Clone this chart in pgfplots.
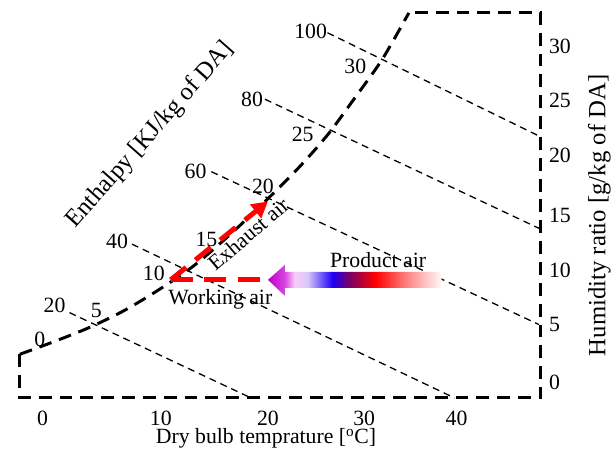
\documentclass[border=0pt]{standalone}
\usepackage{fontspec}
\setmainfont{Liberation Serif}
\usepackage{pgfplots}
\pgfplotsset{compat=1.18}
\usetikzlibrary{arrows.meta}
\definecolor{pmag}{RGB}{190,0,205}
\definecolor{pmagb}{RGB}{215,70,225}
\definecolor{ppink}{RGB}{250,205,250}
\definecolor{plav}{RGB}{215,200,250}
\definecolor{pblue}{RGB}{30,0,250}
\definecolor{ppurp}{RGB}{120,0,100}
\definecolor{pred}{RGB}{255,0,0}
\definecolor{ppinkred}{RGB}{255,130,130}
\definecolor{pwhite}{RGB}{255,250,250}
\pgfdeclarehorizontalshading{productair}{100bp}{color(0bp)=(pmag); color(25bp)=(pmag); color(29.9bp)=(pmagb); color(32.7bp)=(ppink); color(36.4bp)=(plav); color(43.6bp)=(pblue); color(48.4bp)=(ppurp); color(55.9bp)=(pred); color(65bp)=(ppinkred); color(75bp)=(pwhite); color(100bp)=(pwhite)}
\newcommand\lab{\fontsize{22}{26}\selectfont}
\newcommand\ttl{\fontsize{25}{30}\selectfont}
\begin{document}
\begin{tikzpicture}
\begin{axis}[
  width=614bp, height=464bp, scale only axis,
  xmin=0, xmax=614, ymin=0, ymax=464, y dir=reverse,
  axis lines=none, clip=false,
  bound/.style={black, line width=3bp, dash pattern=on 13bp off 8bp},
  enth/.style={black, line width=1.3bp, dash pattern=on 7bp off 5bp},
]
\path (rel axis cs:0,0) rectangle (rel axis cs:1,1);
% boundary of the chart
\addplot[bound] coordinates {(20,357) (20,401) (545,401) (545,13) (412,13)};
% saturation curve
\addplot[bound, smooth] coordinates {(20,357) (55,344) (90,330) (125,313) (160,292) (195,268) (230,238) (265,205) (300,170) (330,136) (358,98) (385,60) (412,13)};
% enthalpy lines
\addplot[enth] coordinates {(70,315) (253,401)};
\addplot[enth] coordinates {(133,246) (458,401)};
\addplot[enth] coordinates {(213,173) (543,327)};
\addplot[enth] coordinates {(267,100) (543,230)};
\addplot[enth] coordinates {(330,33) (543,137)};
% processes
\addplot[red, line width=5bp, dash pattern=on 22bp off 12bp] coordinates {(172,282) (272,282)};
\addplot[red, line width=5bp, dash pattern=on 20bp off 12bp, -{Triangle[length=16bp,width=17bp]}] coordinates {(172,282) (270,203)};
\addplot[draw=none, shade, shading=productair] coordinates {(270,282) (287,267) (287,274) (445,274) (445,290) (287,290) (287,298) (270,282)};
% enthalpy labels
\node[font=\lab] at (axis cs:55,308) {20};
\node[font=\lab] at (axis cs:118,243) {40};
\node[font=\lab] at (axis cs:197,173) {60};
\node[font=\lab] at (axis cs:254,100) {80};
\node[font=\lab] at (axis cs:313,32) {100};
% wet bulb labels
\node[font=\lab] at (axis cs:40,342) {0};
\node[font=\lab] at (axis cs:97,313) {5};
\node[font=\lab] at (axis cs:155,275) {10};
\node[font=\lab] at (axis cs:208,241) {15};
\node[font=\lab] at (axis cs:265,188) {20};
\node[font=\lab] at (axis cs:305,135) {25};
\node[font=\lab] at (axis cs:358,67) {30};
% x tick labels
\node[font=\lab, anchor=base] at (axis cs:43,429) {0};
\node[font=\lab, anchor=base] at (axis cs:162,429) {10};
\node[font=\lab, anchor=base] at (axis cs:270,429) {20};
\node[font=\lab, anchor=base] at (axis cs:367,429) {30};
\node[font=\lab, anchor=base] at (axis cs:460,429) {40};
% right tick labels
\node[font=\lab, anchor=west, inner sep=0pt] at (axis cs:553,385) {0};
\node[font=\lab, anchor=west, inner sep=0pt] at (axis cs:553,327) {5};
\node[font=\lab, anchor=west, inner sep=0pt] at (axis cs:553,272) {10};
\node[font=\lab, anchor=west, inner sep=0pt] at (axis cs:553,217) {15};
\node[font=\lab, anchor=west, inner sep=0pt] at (axis cs:553,157) {20};
\node[font=\lab, anchor=west, inner sep=0pt] at (axis cs:553,101) {25};
\node[font=\lab, anchor=west, inner sep=0pt] at (axis cs:553,47) {30};
% titles
\node[font=\lab, anchor=base] at (axis cs:268,447) {Dry bulb temprature [\textsuperscript{o}C]};
\node[font=\ttl, anchor=base, rotate=90] at (axis cs:610,217) {Humidity ratio [g/kg of DA]};
\node[font=\ttl, anchor=base, rotate=48.5] at (axis cs:156,140) {Enthalpy [KJ/kg of DA]};
% process labels
\node[font=\lab, rotate=40.5] at (axis cs:250,236) {Exhaust air};
\node[font=\lab] at (axis cs:222,302) {Working air};
\node[font=\lab] at (axis cs:381,262) {Product air};
\end{axis}
\end{tikzpicture}
\end{document}
